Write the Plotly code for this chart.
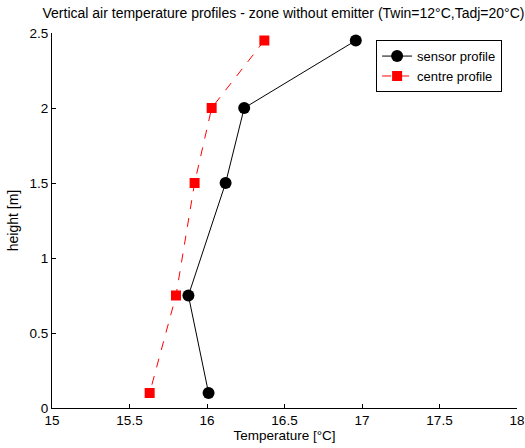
import plotly.graph_objects as go

sensor_temp = [16.96, 16.24, 16.12, 15.88, 16.01]
sensor_height = [2.45, 2.0, 1.5, 0.75, 0.1]
centre_temp = [16.37, 16.03, 15.92, 15.80, 15.63]
centre_height = [2.45, 2.0, 1.5, 0.75, 0.1]

x_ticks = [15, 15.5, 16, 16.5, 17, 17.5, 18]
y_ticks = [0, 0.5, 1, 1.5, 2, 2.5]

fig = go.Figure()
fig.add_trace(go.Scatter(x=sensor_temp, y=sensor_height, mode="lines+markers",
                         name="sensor profile",
                         line=dict(color="black", width=1),
                         marker=dict(symbol="circle", size=12, color="black")))
fig.add_trace(go.Scatter(x=centre_temp, y=centre_height, mode="lines+markers",
                         name="centre profile",
                         line=dict(color="red", width=1, dash="dash"),
                         marker=dict(symbol="square", size=10, color="red")))

ff = "Liberation Sans, Arial, sans-serif"
fig.update_layout(
    width=525, height=448,
    margin=dict(l=52, r=8, t=33, b=40, autoexpand=False),
    paper_bgcolor="white", plot_bgcolor="white",
    font=dict(family=ff, size=13.5, color="black"),
    title=dict(text="Vertical air temperature profiles - zone without emitter (Twin=12°C,Tadj=20°C)",
               x=0.54, xanchor="center", y=0.982, yanchor="top",
               font=dict(family=ff, size=14, color="black")),
    legend=dict(x=0.697, y=0.981, xanchor="left", yanchor="top",
                bordercolor="black", borderwidth=1, bgcolor="white",
                font=dict(size=13), tracegroupgap=0, itemwidth=30),
    showlegend=True,
)
fig.update_xaxes(range=[15, 18], tickvals=x_ticks, ticktext=[str(v) for v in x_ticks],
                 showgrid=False, zeroline=False, showline=True, linecolor="black",
                 linewidth=1, ticks="inside", ticklen=4, tickcolor="black",
                 automargin=False,
                 title=dict(text="Temperature [°C]", standoff=3, font=dict(size=13.5)))
fig.update_yaxes(range=[0, 2.5], tickvals=y_ticks, ticktext=[str(v) for v in y_ticks],
                 showgrid=False, zeroline=False, showline=True, linecolor="black",
                 linewidth=1, ticks="inside", ticklen=4, tickcolor="black",
                 automargin=False,
                 title=dict(text="height [m]", standoff=7, font=dict(size=14)))

fig.write_html("out.html", config={"displayModeBar": False},
               post_script="document.body.style.margin='0px';document.body.style.overflow='hidden';")
